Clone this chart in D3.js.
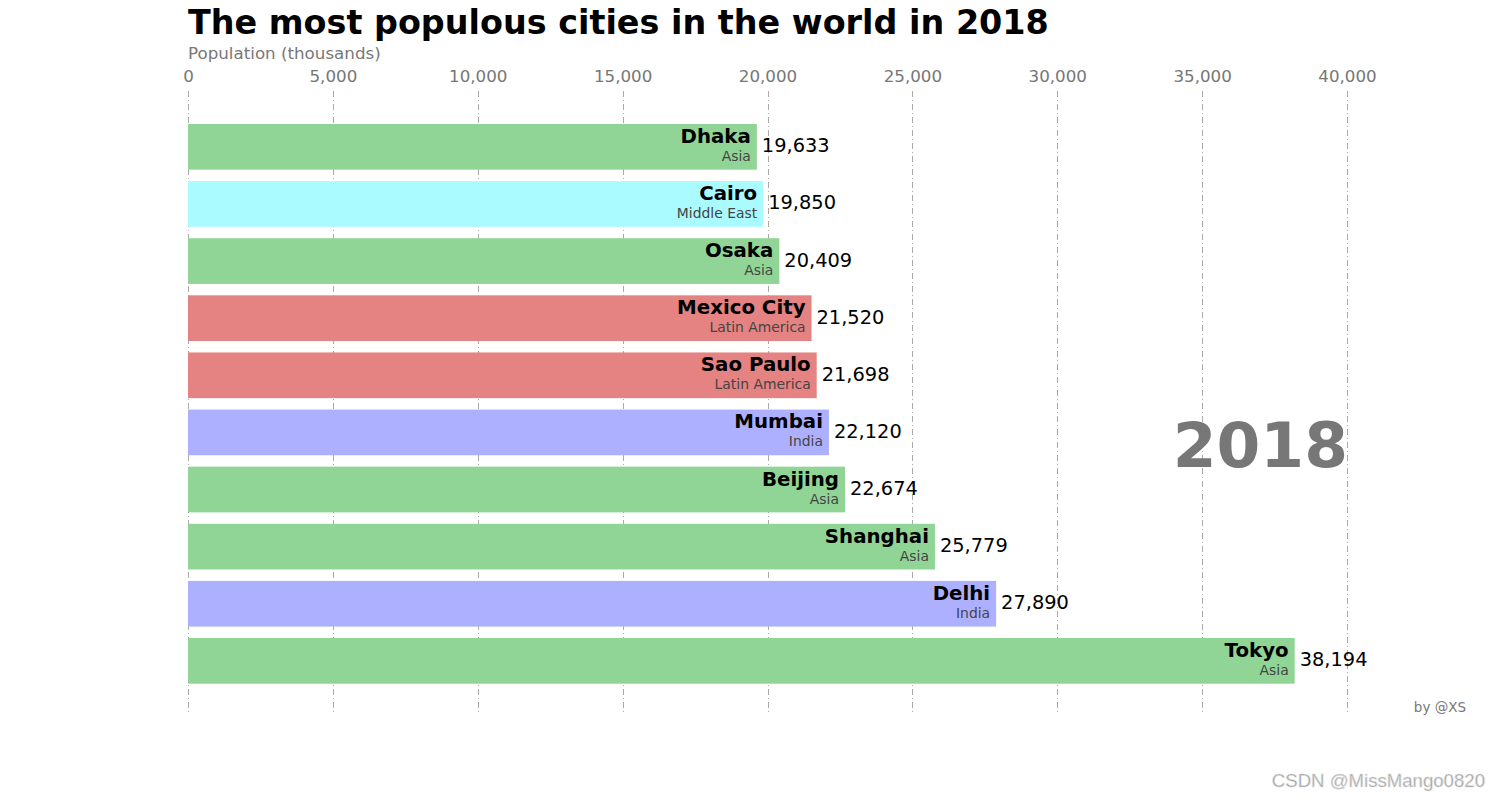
<!DOCTYPE html>
<html><head><meta charset="utf-8">
<script src="https://cdn.jsdelivr.net/npm/d3@7"></script>
<style>body{margin:0;background:#fff}svg{display:block;font-family:"DejaVu Sans",sans-serif}</style>
</head><body><svg id="c" width="1500" height="800"></svg>
<script>
const cities = ["Dhaka","Cairo","Osaka","Mexico City","Sao Paulo","Mumbai","Beijing","Shanghai","Delhi","Tokyo"];
const regions = ["Asia","Middle East","Asia","Latin America","Latin America","India","Asia","Asia","India","Asia"];
const values = [19633,19850,20409,21520,21698,22120,22674,25779,27890,38194];
const ticks = [0,5000,10000,15000,20000,25000,30000,35000,40000];
const regionNames = ["Asia","Middle East","Latin America","India"];
const regionColors = ["#90d595","#aafbff","#e48381","#adb0ff"];
const year = "2018";

const svg = d3.select("#c");
const x = d3.scaleLinear().domain([0,40000]).range([188,1347]);
const y = d3.scaleBand().domain(cities).range([124,683.7]).paddingInner(0.2).paddingOuter(0);
const color = d3.scaleOrdinal().domain(regionNames).range(regionColors);
const fmt = d3.format(",");

// grid
svg.append("g").selectAll("line").data(ticks).join("line")
  .attr("x1",d=>Math.round(x(d))+0.5).attr("x2",d=>Math.round(x(d))+0.5)
  .attr("y1",91).attr("y2",712)
  .attr("stroke","#aaaaaa").attr("stroke-width",1)
  .attr("stroke-dasharray","6,3,1,3");

// axis
const ax = svg.append("g").attr("transform","translate(0,91)")
  .call(d3.axisTop(x).tickValues(ticks).tickFormat(fmt).tickSize(0).tickPadding(9));
ax.select(".domain").remove();
ax.selectAll("text").attr("fill","#777777").style("font-size","16.7px").style("font-family","DejaVu Sans");

// bars
const data = cities.map((c,i)=>({city:c,region:regions[i],value:values[i]}));
svg.append("g").selectAll("rect").data(data).join("rect")
  .attr("x",x(0)).attr("y",d=>y(d.city)).attr("width",d=>x(d.value)-x(0)).attr("height",y.bandwidth())
  .attr("fill",d=>color(d.region));

const lab = svg.append("g");
lab.selectAll("text.name").data(data).join("text").attr("class","name")
  .attr("x",d=>x(d.value)-6).attr("y",d=>y(d.city)+y.bandwidth()/2-4)
  .attr("text-anchor","end").attr("font-weight","bold").attr("font-size","19.8px").attr("fill","#000")
  .text(d=>d.city);
lab.selectAll("text.reg").data(data).join("text").attr("class","reg")
  .attr("x",d=>x(d.value)-6).attr("y",d=>y(d.city)+y.bandwidth()/2+14)
  .attr("text-anchor","end").attr("font-size","13.9px").attr("fill","#444444")
  .text(d=>d.region);
lab.selectAll("text.val").data(data).join("text").attr("class","val")
  .attr("x",d=>x(d.value)+5).attr("y",d=>y(d.city)+y.bandwidth()/2+5.5)
  .attr("font-size","19.4px").attr("fill","#000")
  .text(d=>fmt(d.value));

// title etc
svg.append("text").attr("x",188).attr("y",34).attr("font-size","33.4px").attr("font-weight","bold").attr("fill","#000")
  .text("The most populous cities in the world in 2018");
svg.append("text").attr("x",188).attr("y",59).attr("font-size","16.7px").attr("fill","#777777")
  .text("Population (thousands)");
svg.append("text").attr("x",1348).attr("y",467).attr("text-anchor","end").attr("font-size","63px").attr("font-weight","bold").attr("fill","#777777")
  .text(year);
svg.append("text").attr("x",1466).attr("y",712).attr("text-anchor","end").attr("font-size","13.5px").attr("fill","#777777")
  .text("by @XS");
svg.append("text").attr("x",1485).attr("y",787).attr("text-anchor","end").attr("font-size","18.6px")
  .style("font-family","'Liberation Sans',Arial,sans-serif").attr("fill","#9a9a9a").attr("stroke","#e0e0e0").attr("stroke-width",0.6)
  .text("CSDN @MissMango0820");
</script></body></html>
